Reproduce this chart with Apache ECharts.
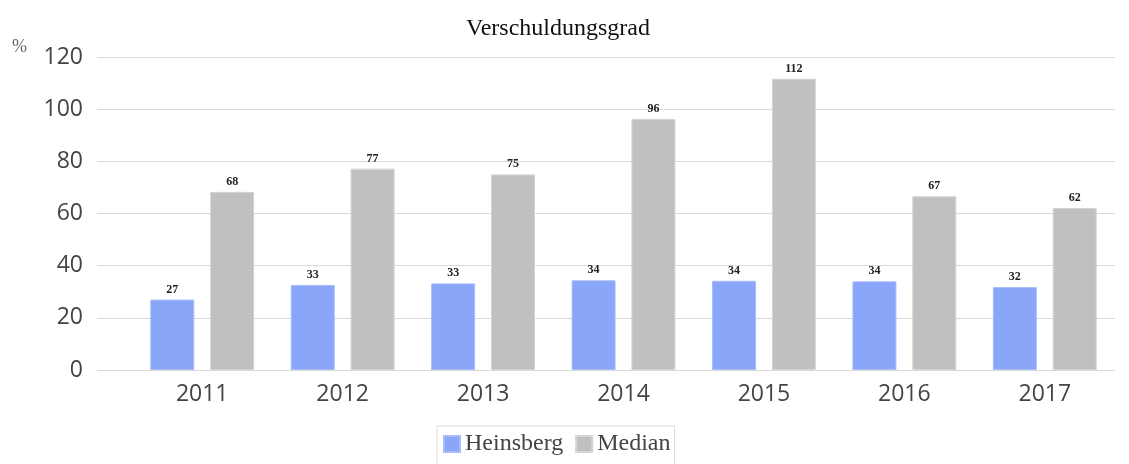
<!DOCTYPE html>
<html>
<head>
<meta charset="utf-8">
<script src="https://cdn.jsdelivr.net/npm/echarts@6/dist/echarts.min.js"></script>
<style>
  html, body { margin: 0; padding: 0; background: #fff; }
  #chart { width: 1129px; height: 464px; }
</style>
</head>
<body>
<div id="chart"></div>
<script>
const years = ['2011', '2012', '2013', '2014', '2015', '2016', '2017']
const heinsberg = [27, 32.6, 33.2, 34.4, 34.2, 34, 31.8]
const median = [68.3, 77.2, 75, 96.2, 111.7, 66.6, 62.1]
const seriesNames = ['Heinsberg', 'Median']

const chart = echarts.init(document.getElementById('chart'))

const serif = '"Liberation Serif", "DejaVu Serif", serif'
const sans = '"Open Sans", "DejaVu Sans", sans-serif'

const barLabel = {
  show: true,
  position: 'top',
  distance: 4,
  fontFamily: serif,
  fontSize: 12,
  fontWeight: 'bold',
  color: '#222',
  formatter: (p) => Math.round(p.value)
}

const option = {
  animation: false,
  title: {
    text: 'Verschuldungsgrad',
    left: 461,
    top: 12,
    textStyle: { fontFamily: serif, fontSize: 24, fontWeight: 'normal', color: '#111' }
  },
  graphic: [{
    type: 'text',
    left: 12,
    top: 38,
    style: { text: '%', fontFamily: serif, fontSize: 18, fill: '#666' }
  }],
  legend: {
    data: seriesNames,
    top: 426,
    left: 437,
    icon: 'rect',
    itemWidth: 16,
    itemHeight: 16,
    itemGap: 12,
    padding: [6, 4, 14, 6],
    borderColor: '#ddd',
    borderWidth: 1,
    textStyle: { fontFamily: serif, fontSize: 24, color: '#444' }
  },
  grid: [
    { left: 97, right: 14, top: 57, bottom: 94 },
    { left: 132, right: 14, top: 57, bottom: 94 }
  ],
  xAxis: [
    { gridIndex: 0, type: 'value', show: false, min: 0, max: 1 },
    {
      gridIndex: 1,
      type: 'category',
      data: years,
      axisLine: { show: false },
      axisTick: { show: false },
      axisLabel: { fontFamily: sans, fontSize: 23, color: '#444', margin: 13 }
    }
  ],
  yAxis: [
    {
      gridIndex: 0,
      type: 'value',
      min: 0,
      max: 120,
      interval: 20,
      axisLine: { show: false },
      axisTick: { show: false },
      axisLabel: { fontFamily: sans, fontSize: 23, color: '#444', margin: 14 },
      splitLine: { lineStyle: { color: '#d9d9d9', width: 1 } }
    },
    {
      gridIndex: 1,
      type: 'value',
      min: 0,
      max: 120,
      interval: 20,
      show: false,
      splitLine: { show: false }
    }
  ],
  series: [
    {
      name: seriesNames[0],
      type: 'bar',
      xAxisIndex: 1,
      yAxisIndex: 1,
      data: heinsberg,
      barWidth: 44,
      barGap: '36%',
      itemStyle: { color: '#8aa6f9', borderColor: '#a9bdfa', borderWidth: 1 },
      label: barLabel
    },
    {
      name: seriesNames[1],
      type: 'bar',
      xAxisIndex: 1,
      yAxisIndex: 1,
      data: median,
      barWidth: 44,
      itemStyle: { color: '#c0c0c0', borderColor: '#d4d4d4', borderWidth: 1 },
      label: barLabel
    }
  ]
}

chart.setOption(option)
</script>
</body>
</html>
